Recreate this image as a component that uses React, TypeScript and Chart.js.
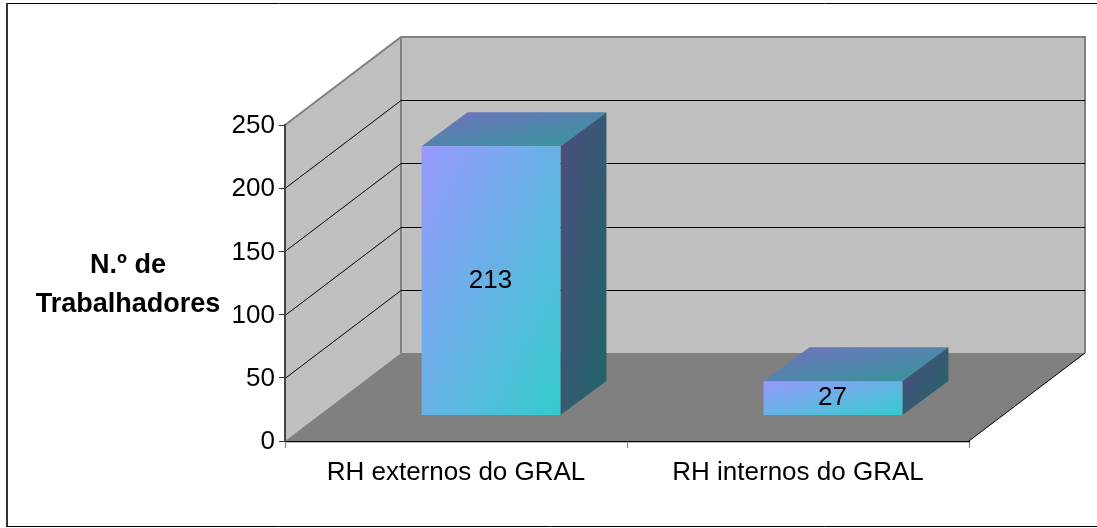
import React, { useEffect, useRef } from "react";
import { Chart, registerables } from "chart.js";

Chart.register(...registerables);

const categories = ["RH externos do GRAL", "RH internos do GRAL"];
const workers = [213, 27];
const axisTitleLines = ["N.º de", "Trabalhadores"];
const yMin = 0;
const yMax = 250;
const yStep = 50;
const gridValues = [50, 100, 150, 200];

const FONT = "'Liberation Sans', Arial, sans-serif";
const LABEL_SIZE = 26;
const BAR_FRACTION = 0.406;
const WALL_DX = 116;
const WALL_DY = 88;
const BAR_SHIFT_X = 35;
const BAR_SHIFT_Y = 25.5;
const BAR_DX = 46;
const BAR_DY = 34;
const WALL = "#C0C0C0";
const FLOOR = "#808080";

// corner-to-corner gradient whose isolines run parallel to the box's anti-diagonal
function diag(c: CanvasRenderingContext2D, x0: number, y0: number, x1: number, y1: number, from: string, to: string) {
  const w = x1 - x0;
  const h = y1 - y0;
  const n = w * w + h * h;
  const cx = (x0 + x1) / 2;
  const cy = (y0 + y1) / 2;
  const k = (w * h) / n;
  const g = c.createLinearGradient(cx - h * k, cy - w * k, cx + h * k, cy + w * k);
  g.addColorStop(0, from);
  g.addColorStop(1, to);
  return g;
}

function poly(c: CanvasRenderingContext2D, pts: number[][]) {
  c.beginPath();
  pts.forEach((p, i) => (i ? c.lineTo(p[0], p[1]) : c.moveTo(p[0], p[1])));
  c.closePath();
}

const scene = {
  id: "scene",
  beforeDraw(chart: any) {
    const c: CanvasRenderingContext2D = chart.ctx;
    const { left, right, top, bottom } = chart.chartArea;
    const y = chart.scales.y;
    c.save();
    c.fillStyle = "#fff";
    c.fillRect(0, 0, chart.width, chart.height);

    // frame
    c.strokeStyle = "#000";
    c.lineWidth = 1;
    c.beginPath();
    c.moveTo(1097, 3.5);
    c.lineTo(7, 3.5);
    c.stroke();
    c.strokeStyle = "#333";
    c.lineWidth = 2;
    c.beginPath();
    c.moveTo(7, 3);
    c.lineTo(7, 527);
    c.stroke();
    c.strokeStyle = "#000";
    c.lineWidth = 1;
    c.beginPath();
    c.moveTo(6, 526.5);
    c.lineTo(1097, 526.5);
    c.stroke();

    // back wall + side wall + floor
    c.fillStyle = WALL;
    c.fillRect(left + WALL_DX, top - WALL_DY, right - left, bottom - top);
    poly(c, [[left, top], [left + WALL_DX, top - WALL_DY], [left + WALL_DX, bottom - WALL_DY], [left, bottom]]);
    c.fill();
    c.fillStyle = FLOOR;
    poly(c, [[left, bottom], [left + WALL_DX, bottom - WALL_DY], [right + WALL_DX, bottom - WALL_DY], [right, bottom]]);
    c.fill();

    // wall edges
    c.strokeStyle = "#808080";
    c.lineWidth = 2;
    c.beginPath();
    c.moveTo(left, top);
    c.lineTo(left + WALL_DX, top - WALL_DY);
    c.lineTo(right + WALL_DX, top - WALL_DY);
    c.lineTo(right + WALL_DX, bottom - WALL_DY);
    c.moveTo(left + WALL_DX, top - WALL_DY);
    c.lineTo(left + WALL_DX, bottom - WALL_DY);
    c.stroke();

    // gridlines
    c.strokeStyle = "#000";
    c.lineWidth = 1;
    c.beginPath();
    gridValues.forEach((v) => {
      const py = Math.round(y.getPixelForValue(v)) + 0.5;
      c.moveTo(left, py);
      c.lineTo(left + WALL_DX, py - WALL_DY);
      c.lineTo(right + WALL_DX, py - WALL_DY);
    });
    c.moveTo(right, bottom);
    c.lineTo(right + WALL_DX, bottom - WALL_DY);
    c.stroke();

    // light strip beneath the floor
    c.strokeStyle = "#C0C0C0";
    c.beginPath();
    c.moveTo(left, bottom + 1.5);
    c.lineTo(right, bottom + 1.5);
    c.stroke();
    c.restore();
  },
  afterDraw(chart: any) {
    const c: CanvasRenderingContext2D = chart.ctx;
    c.save();
    c.fillStyle = "#000";
    c.textAlign = "center";
    c.textBaseline = "middle";
    c.font = `bold 27px ${FONT}`;
    c.fillText(axisTitleLines[0], 128, 266);
    c.fillText(axisTitleLines[1], 128, 305);
    c.restore();
  },
  beforeDatasetsDraw(chart: any) {
    const c: CanvasRenderingContext2D = chart.ctx;
    const meta = chart.getDatasetMeta(0);
    c.save();
    c.translate(BAR_SHIFT_X, -BAR_SHIFT_Y);
    meta.data.forEach((bar: any) => {
      const l = bar.x - bar.width / 2;
      const r = bar.x + bar.width / 2;
      const t = bar.y;
      const b = bar.base;
      c.fillStyle = diag(c, l, t - BAR_DY, r + BAR_DX, t, "#7070BF", "#339999");
      poly(c, [[l, t], [l + BAR_DX, t - BAR_DY], [r + BAR_DX, t - BAR_DY], [r, t]]);
      c.fill();
      c.fillStyle = diag(c, r, t - BAR_DY, r + BAR_DX, b, "#4D4D80", "#1F6666");
      poly(c, [[r, t], [r + BAR_DX, t - BAR_DY], [r + BAR_DX, b - BAR_DY], [r, b]]);
      c.fill();
    });
    c.restore();
  },
  beforeDatasetDraw(chart: any) {
    chart.ctx.save();
    chart.ctx.translate(BAR_SHIFT_X, -BAR_SHIFT_Y);
  },
  afterDatasetDraw(chart: any) {
    chart.ctx.restore();
  },
  afterDatasetsDraw(chart: any) {
    const c: CanvasRenderingContext2D = chart.ctx;
    const meta = chart.getDatasetMeta(0);
    c.save();
    c.fillStyle = "#000";
    c.textAlign = "center";
    c.textBaseline = "middle";
    c.font = `${LABEL_SIZE}px ${FONT}`;
    meta.data.forEach((bar: any, i: number) => {
      c.fillText(String(workers[i]), bar.x + BAR_SHIFT_X - 0.5, (bar.y + bar.base) / 2 - BAR_SHIFT_Y);
    });
    c.restore();
  },
};

export default function App() {
  const ref = useRef<HTMLCanvasElement>(null);
  useEffect(() => {
    const canvas = ref.current!;
    const chart = new Chart(canvas, {
      type: "bar",
      data: {
        labels: categories,
        datasets: [
          {
            data: workers,
            clip: false,
            barPercentage: BAR_FRACTION,
            categoryPercentage: 1,
            backgroundColor: (ctx: any) => {
              const ch = ctx.chart;
              if (!ch.chartArea || ctx.parsed == null) return "#9999FF";
              const yS = ch.scales.y;
              const xS = ch.scales.x;
              const cx = xS.getPixelForValue(ctx.dataIndex);
              const half = (xS.width / categories.length) * BAR_FRACTION * 0.5;
              const t = yS.getPixelForValue(ctx.parsed.y);
              const b = yS.getPixelForValue(0);
              return diag(ch.ctx, cx - half, t, cx + half, b, "#9999FF", "#33CCCC");
            },
          },
        ],
      },
      options: {
        responsive: false,
        animation: false,
        layout: { padding: { left: 0, top: 125, right: 128, bottom: 0 } },
        plugins: { legend: { display: false }, tooltip: { enabled: false } },
        scales: {
          x: {
            afterFit: (s: any) => {
              s.height = 87;
            },
            grid: { drawOnChartArea: false, drawTicks: true, tickLength: 7, color: "#808080" },
            border: { color: "#000", width: 1 },
            ticks: { color: "#000", padding: 9, maxRotation: 0, font: { family: FONT, size: LABEL_SIZE } },
          },
          y: {
            min: yMin,
            max: yMax,
            afterFit: (s: any) => {
              s.width = 285;
              // nudge the tick labels down to sit as in the reference
              const orig = s.constructor.prototype.drawLabels;
              s.drawLabels = function (area: any) {
                this.ctx.save();
                this.ctx.translate(0, 1);
                orig.call(this, area);
                this.ctx.restore();
              };
            },
            grid: { drawOnChartArea: false, drawTicks: true, tickLength: 6, color: "#333" },
            border: { color: "#444", width: 2 },
            ticks: { stepSize: yStep, color: "#000", padding: 4, font: { family: FONT, size: LABEL_SIZE } },
          },
        },
      },
      plugins: [scene],
    } as any);
    return () => chart.destroy();
  }, []);
  return (
    <canvas
      ref={ref}
      width={1097}
      height={528}
      style={{ position: "absolute", left: 0, top: 0, display: "block" }}
    />
  );
}
